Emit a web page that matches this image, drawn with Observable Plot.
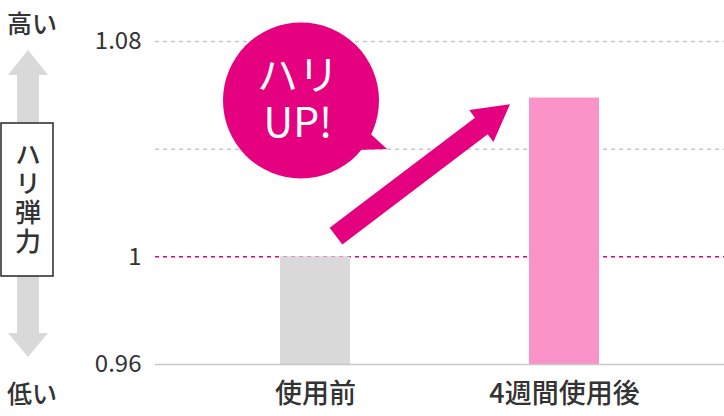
<!DOCTYPE html>
<html>
<head>
<meta charset="utf-8">
<script src="https://cdn.jsdelivr.net/npm/d3@7"></script>
<script src="https://cdn.jsdelivr.net/npm/@observablehq/plot@0.6"></script>
<style>
  html, body { margin: 0; padding: 0; background: #fff; }
  #chart svg { display: block; }
</style>
</head>
<body>
<div id="chart"></div>
<script>
// ---- data ----
const categories = ["使用前", "4週間使用後"];
const values = [1.0, 1.059];
const barColors = ["#d9d9d9", "#f993c8"];
const yTicks = [0.96, 1, 1.08];
const dashedGrid = [1.08, 1.04];
const referenceValue = [1];
const baselineValue = 0.96;
const bubbleLines = ["ハリ", "UP!"];
const axisLabelTop = "高い";
const axisLabelBottom = "低い";
const axisTitle = "ハリ弾力";
const arrowValues = [1.0075, 1.0565];

const data = categories.map((c, i) => ({category: c, base: baselineValue, value: values[i]}));

const FONT = "'Noto Sans CJK JP', 'Noto Sans', sans-serif";
const TEXT = "#333333";
const MAGENTA = "#e4007f";

const plot = Plot.plot({
  width: 724,
  height: 416,
  marginTop: 41,
  marginBottom: 52,
  marginLeft: 155,
  marginRight: 0,
  style: {fontFamily: FONT, color: TEXT, background: "#fff", overflow: "visible"},
  x: {domain: categories, paddingInner: 0.72, paddingOuter: 0.5, label: null},
  y: {domain: [0.96, 1.08], label: null},
  color: {domain: categories, range: barColors},
  marks: [
    Plot.ruleY(dashedGrid, {stroke: "#c8c8c8", strokeWidth: 1.5, strokeDasharray: "4,4"}),
    Plot.ruleY(referenceValue, {stroke: MAGENTA, strokeWidth: 1.5, strokeDasharray: "4,4"}),
    Plot.barY(data, {x: "category", y1: "base", y2: "value", fill: "category"}),
    Plot.ruleY([baselineValue], {stroke: "#c8c8c8", strokeWidth: 1.5}),
    Plot.axisY({ticks: yTicks, tickSize: 0, tickPadding: 14, fontSize: 24,
      tickFormat: d => d === 1 ? "1" : d.toFixed(2)}),
    Plot.axisX({tickSize: 0, tickPadding: 19, fontSize: 27, fontWeight: 500})
  ]
});

document.getElementById("chart").appendChild(plot);

const svg = d3.select(plot);
const xs = plot.scale("x");
const ys = plot.scale("y");
const bw = xs.bandwidth;

// ---- left side: high / low indicator ----
const side = svg.append("g");
const cx = 28;
const yTop = ys.apply(1.08) + 9;      // arrow tip top
const yBot = ys.apply(0.96) - 7;      // arrow tip bottom
const boxTop = 123, boxBot = 276;
const gray = "#d9d9d9";
side.append("polygon").attr("fill", gray).attr("points", [
  [cx, yTop], [cx + 20, yTop + 25], [cx + 11, yTop + 25], [cx + 11, boxTop],
  [cx - 11, boxTop], [cx - 11, yTop + 25], [cx - 20, yTop + 25]
].map(p => p.join(",")).join(" "));
side.append("polygon").attr("fill", gray).attr("points", [
  [cx, yBot], [cx + 20, yBot - 24], [cx + 11, yBot - 24], [cx + 11, boxBot],
  [cx - 11, boxBot], [cx - 11, yBot - 24], [cx - 20, yBot - 24]
].map(p => p.join(",")).join(" "));
side.append("rect").attr("x", 1).attr("y", boxTop).attr("width", 52).attr("height", boxBot - boxTop)
  .attr("fill", "#fff").attr("stroke", TEXT).attr("stroke-width", 1.6);
side.append("text").text(axisTitle)
  .attr("x", 28).attr("y", (boxTop + boxBot) / 2)
  .attr("text-anchor", "middle")
  .style("writing-mode", "vertical-rl")
  .attr("letter-spacing", 3)
  .attr("font-family", FONT).attr("font-size", 26)
  .attr("font-weight", 500).attr("fill", TEXT);
side.append("text").text(axisLabelTop).attr("x", 7).attr("y", 33).attr("text-anchor", "start")
  .attr("font-family", FONT).attr("font-size", 25).attr("font-weight", 500).attr("fill", TEXT);
side.append("text").text(axisLabelBottom).attr("x", 7).attr("y", 403).attr("text-anchor", "start")
  .attr("font-family", FONT).attr("font-size", 25).attr("font-weight", 500).attr("fill", TEXT);

// ---- up arrow ----
const S = [xs.apply(categories[0]) + bw / 2 + 21, ys.apply(arrowValues[0])];
const T = [xs.apply(categories[1]) - 19, ys.apply(arrowValues[1])];
const dx = T[0] - S[0], dy = T[1] - S[1];
const len = Math.hypot(dx, dy);
const u = [dx / len, dy / len], n = [-u[1], u[0]];
const sw = 21, hw = 40, hl = 36;
const H = [T[0] - u[0] * hl, T[1] - u[1] * hl];
const pt = (p, k) => [p[0] + n[0] * k, p[1] + n[1] * k];
svg.append("polygon").attr("fill", MAGENTA).attr("points", [
  pt(S, sw / 2), pt(H, sw / 2), pt(H, hw / 2), T, pt(H, -hw / 2), pt(H, -sw / 2), pt(S, -sw / 2)
].map(p => p.join(",")).join(" "));

// ---- speech bubble ----
const bub = svg.append("g");
const bx = 301, by = 100.5, br = 78;
bub.append("circle").attr("cx", bx).attr("cy", by).attr("r", br).attr("fill", MAGENTA);
bub.append("polygon").attr("fill", MAGENTA)
  .attr("points", [[362, 126], [387, 149], [356, 150]].map(p => p.join(",")).join(" "));
const bt = bub.append("text").attr("x", bx - 3).attr("y", 90)
  .attr("text-anchor", "middle").attr("font-family", FONT).attr("font-size", 41)
  .attr("fill", "#fff");
bubbleLines.forEach((t, i) => {
  bt.append("tspan").text(t).attr("x", bx - 3).attr("dy", i === 0 ? 0 : 47);
});
</script>
</body>
</html>
